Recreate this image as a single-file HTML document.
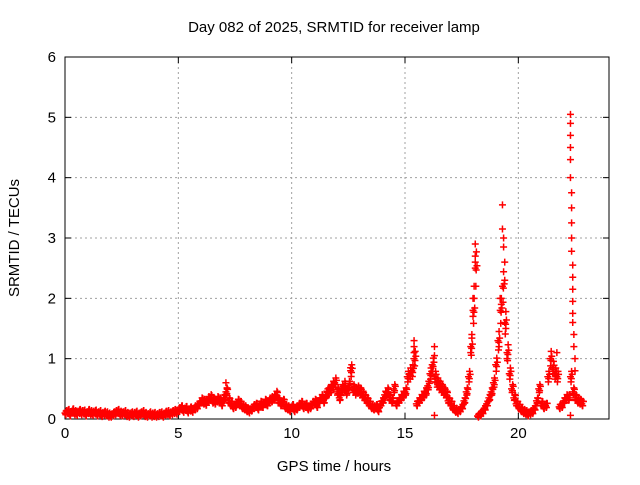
<!DOCTYPE html>
<html><head><meta charset="utf-8"><style>
body{margin:0;background:#fff}
svg{font-family:"Liberation Sans",sans-serif;font-size:15px}
</style></head><body>
<svg id="c" width="640" height="480"></svg>
<script>
const xTicks=[0,5,10,15,20];
const yTicks=[0,1,2,3,4,5,6];
const baseStart=0, baseStep=0.1;
const values=[0.1,0.12,0.08,0.13,0.1,0.09,0.12,0.1,0.11,0.08,0.12,0.1,0.09,0.11,0.08,0.1,0.07,0.09,0.08,0.06,0.05,0.08,0.1,0.12,0.09,0.08,0.1,0.07,0.06,0.08,0.07,0.09,0.06,0.08,0.1,0.07,0.05,0.08,0.06,0.07,0.05,0.07,0.08,0.06,0.09,0.1,0.08,0.1,0.12,0.11,
0.15,0.18,0.14,0.17,0.13,0.16,0.14,0.18,0.2,0.25,0.3,0.28,0.26,0.32,0.35,0.3,0.28,0.32,0.3,0.25,0.35,0.45,0.3,0.25,0.2,0.22,0.28,0.25,0.2,0.18,0.15,0.13,0.16,0.2,0.22,0.18,0.25,0.22,0.28,0.25,0.3,0.32,0.35,0.4,0.3,0.25,0.28,0.2,0.18,0.15,
0.2,0.15,0.18,0.22,0.25,0.2,0.22,0.18,0.2,0.25,0.28,0.22,0.3,0.35,0.3,0.4,0.45,0.5,0.55,0.6,0.45,0.35,0.5,0.55,0.45,0.55,0.8,0.5,0.45,0.48,0.45,0.4,0.35,0.3,0.25,0.2,0.18,0.2,0.15,0.25,0.3,0.4,0.45,0.35,0.3,0.5,0.25,0.3,0.35,0.4,
0.45,0.7,0.75,0.8,1.0,0.25,0.3,0.35,0.4,0.45,0.55,0.75,0.9,0.7,0.6,0.55,0.5,0.45,0.4,0.3,0.25,0.18,0.14,0.12,0.15,0.2,0.3,0.45,0.7,1.2,1.8,2.5,0.05,0.08,0.12,0.18,0.25,0.35,0.45,0.6,0.9,1.3,1.8,2.2,1.6,1.1,0.75,0.5,0.35,0.25,
0.2,0.15,0.12,0.1,0.08,0.1,0.12,0.18,0.3,0.5,0.25,0.2,0.22,0.7,1.0,0.85,0.75,0.7,0.2,0.22,0.3,0.35,0.35,0.7,0.45,0.35,0.3,0.28,0.25];
const spikeT=[7.1,7.15,15.4,15.4,15.4,16.3,16.3,16.3,18.1,18.1,18.1,18.05,18.0,18.0,17.95,17.9,19.3,19.3,19.35,19.35,19.4,19.4,19.2,19.45,19.25,19.15,19.5,22.3,22.3,22.3,22.3,22.3,22.3,22.35,22.35,22.35,22.35,22.35,22.4,22.4,22.4,22.4,22.4,22.4,22.45,22.45,22.5,22.5,22.3,21.7,12.6,11.6];
const spikeV=[0.6,0.5,1.3,1.2,1.1,1.2,1.05,0.06,2.9,2.7,2.6,2.2,2.0,1.7,1.4,1.1,3.55,3.15,3.0,2.85,2.6,2.3,2.0,1.5,1.9,1.2,1.0,5.05,4.9,4.7,4.5,4.3,4.0,3.75,3.5,3.25,3.0,2.78,2.55,2.35,2.15,1.95,1.75,1.6,1.4,1.2,1.0,0.8,0.06,1.1,0.85,0.5];
const L=65,R=609,T=57,B=419;
const X=t=>L+(t-0)/24*(R-L), Y=v=>B-v/6*(B-T);
const s=document.getElementById('c'),NS='http://www.w3.org/2000/svg';
function mk(tag,a,txt){const e=document.createElementNS(NS,tag);for(const k in a)e.setAttribute(k,a[k]);if(txt!==undefined)e.textContent=txt;s.appendChild(e);return e;}
let e;
e=mk('text',{x:334,y:32,'text-anchor':'middle'},'Day 082 of 2025, SRMTID for receiver lamp');


e=mk('text',{x:334,y:471,'text-anchor':'middle'},'GPS time / hours');


e=mk('text',{x:19,y:238,'text-anchor':'middle',transform:'rotate(-90 19 238)'},'SRMTID / TECUs');


xTicks.forEach(t=>{const x=X(t);
 if(t>0){e=mk('line',{x1:x,x2:x,y1:T,y2:B,stroke:'#a0a0a0','stroke-dasharray':'2,3'});}
 mk('line',{x1:x,x2:x,y1:B,y2:B-6,stroke:'#000'});mk('line',{x1:x,x2:x,y1:T,y2:T+6,stroke:'#000'});
 e=mk('text',{x:x,y:B+19,'text-anchor':'middle'},String(t));});
yTicks.forEach(v=>{const y=Y(v);
 if(v>0&&v<6){e=mk('line',{x1:L,x2:R,y1:y,y2:y,stroke:'#a0a0a0','stroke-dasharray':'2,3'});}
 mk('line',{x1:L,x2:L+6,y1:y,y2:y,stroke:'#000'});mk('line',{x1:R,x2:R-6,y1:y,y2:y,stroke:'#000'});
 e=mk('text',{x:L-9,y:y+5,'text-anchor':'end'},String(v));});
e=mk('rect',{x:L,y:T,width:R-L,height:B-T,fill:'none',stroke:'#000'});


function plus(t,v){const x=X(t),y=Y(v);
 const p=mk('path',{d:`M${x-3.5} ${y}H${x+3.5}M${x} ${y-3.5}V${y+3.5}`,stroke:'#f00','stroke-width':1.5,fill:'none'});
 
 }
values.forEach((v,i)=>{const t=baseStart+i*baseStep;
 plus(t,v);plus(t+0.05,v*1.1+0.02);plus(t+0.025,v*0.88);plus(t+0.075,v+0.04);plus(t+0.04,Math.max(0.03,v-0.03));});
spikeT.forEach((t,i)=>plus(t,spikeV[i]));
</script>
</body></html>
